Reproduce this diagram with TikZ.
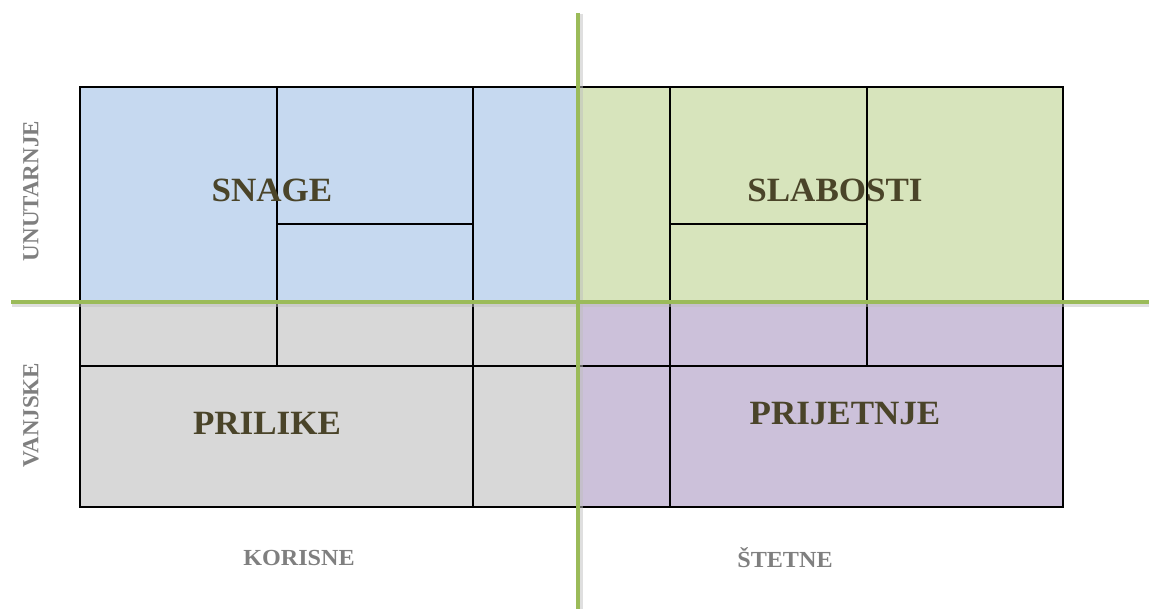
\documentclass[tikz,border=0pt]{standalone}
\usepackage{fontspec}
\setmainfont{Liberation Serif}
\definecolor{qblue}{HTML}{C6D9F0}
\definecolor{qgreen}{HTML}{D7E4BC}
\definecolor{qgray}{HTML}{D8D8D8}
\definecolor{qpurple}{HTML}{CCC1DA}
\definecolor{axisgreen}{HTML}{9BBB59}
\definecolor{titletxt}{HTML}{4A4429}
\definecolor{sidetxt}{HTML}{7F7F7F}
\begin{document}
\begin{tikzpicture}[x=1pt,y=-1pt,
  grid/.style={draw=black,line width=1.6pt},
  axis/.style={draw=axisgreen,line width=4pt},
  axisshadow/.style={draw=black!25,line width=4pt,opacity=0.5},
  title/.style={font=\fontsize{34}{34}\selectfont\bfseries,text=titletxt,inner sep=0pt,xscale=1.03},
  side/.style={font=\fontsize{23}{23}\selectfont\bfseries,text=sidetxt,inner sep=0pt}]
\useasboundingbox (0,0) rectangle (1149,609);
% fills
\fill[qblue] (80,87) rectangle (578,302);
\fill[qgreen] (578,87) rectangle (1063,302);
\fill[qgray] (80,302) rectangle (578,507);
\fill[qpurple] (578,302) rectangle (1063,507);
% inner grid
\draw[grid] (277,87) -- (277,366);
\draw[grid] (473,87) -- (473,507);
\draw[grid] (277,224) -- (473,224);
\draw[grid] (670,87) -- (670,507);
\draw[grid] (867,87) -- (867,366);
\draw[grid] (670,224) -- (867,224);
\draw[grid] (80,366) -- (1063,366);
\draw[grid] (80,87) rectangle (1063,507);
% titles
\node[title] (snage) at (272,190) {SNAGE};
\node[title] (slabosti) at (835,190) {SLABOSTI};
\node[title] (prilike) at (267,423) {PRILIKE};
\node[title] (prijetnje) at (845,414) {PRIJETNJE};
% side labels
\node[side,xscale=1.05] (korisne) at (299,558) {KORISNE};
\node[side,xscale=1.05] (stetne) at (785,558) {ŠTETNE};
\node[side,rotate=90] (unutarnje) at (31,191) {UNUTARNJE};
\node[side,rotate=90] (vanjske) at (31,415) {VANJSKE};
% axes
\draw[axisshadow] (12,305) -- (1149,305);
\draw[axisshadow] (581,14) -- (581,609);
\draw[axis] (11,302) -- (1149,302);
\draw[axis] (578,13) -- (578,609);
\end{tikzpicture}
\end{document}
